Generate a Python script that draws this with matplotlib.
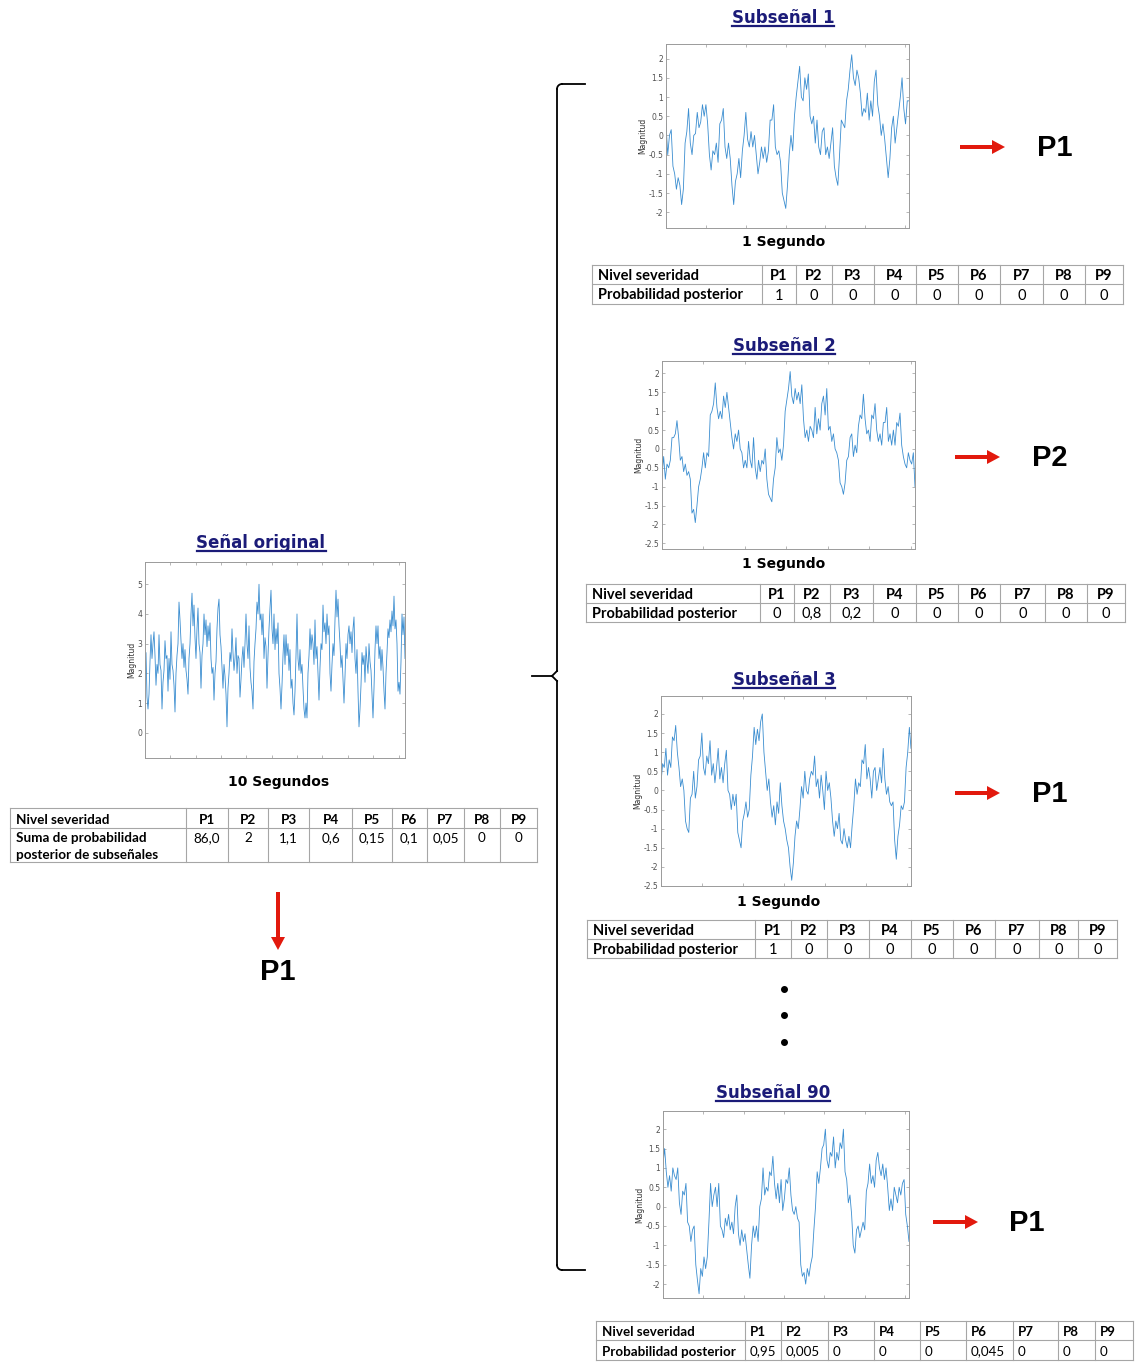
import numpy as np
import matplotlib.pyplot as plt
from matplotlib.ticker import FixedLocator, FuncFormatter, MultipleLocator

plt.rcParams['axes.unicode_minus'] = False

W, H = 1135, 1362

# ---- datos ----
niveles = ['P1', 'P2', 'P3', 'P4', 'P5', 'P6', 'P7', 'P8', 'P9']
suma_prob = ['86,0', '2', '1,1', '0,6', '0,15', '0,1', '0,05', '0', '0']
prob_sub1 = ['1', '0', '0', '0', '0', '0', '0', '0', '0']
prob_sub2 = ['0', '0,8', '0,2', '0', '0', '0', '0', '0', '0']
prob_sub3 = ['1', '0', '0', '0', '0', '0', '0', '0', '0']
prob_sub90 = ['0,95', '0,005', '0', '0', '0', '0,045', '0', '0', '0']
clase = {'Subseñal 1': 'P1', 'Subseñal 2': 'P2', 'Subseñal 3': 'P1', 'Subseñal 90': 'P1'}
clase_final = 'P1'

# señal original (10 s), leida a mano del grafico
senal_orig = [2.0, 2.7, 1.2, 0.8, 1.3, 2.4, 3.3, 2.5, 3.0, 3.4, 2.6, 1.6, 2.3, 2.0, 3.3, 2.3, 2.1, 0.8,
              1.7, 2.1, 3.1, 2.5, 2.6, 1.4, 2.5, 1.8, 3.4, 2.3, 2.1, 1.6, 0.7, 2.0, 2.6, 3.0, 4.4, 3.8,
              3.1, 2.5, 3.0, 2.2, 2.8, 2.1, 1.8, 1.3, 2.5, 3.0, 4.0, 4.7, 3.6, 4.3, 3.2, 2.5, 3.5, 4.2,
              3.0, 2.7, 1.5, 2.6, 3.0, 4.0, 3.3, 3.8, 2.9, 3.6, 3.1, 3.7, 2.5, 2.0, 2.2, 1.1, 2.0, 2.4,
              3.5, 4.2, 4.5, 3.3, 2.9, 2.2, 1.5, 2.3, 1.9, 1.3, 0.2, 1.5, 2.0, 2.7, 2.4, 3.5, 2.7, 2.1,
              2.5, 3.2, 2.0, 2.6, 2.5, 1.2, 1.8, 2.5, 2.9, 2.2, 3.0, 4.0, 3.0, 2.5, 3.6, 2.2, 1.7, 1.4,
              0.8, 2.4, 3.0, 3.5, 4.4, 4.0, 5.0, 3.8, 4.0, 3.3, 4.0, 2.5, 3.2, 2.9, 1.5, 2.6, 3.5, 4.2,
              4.8, 3.5, 3.0, 4.0, 2.8, 3.5, 3.0, 3.7, 2.0, 1.5, 0.8, 1.6, 2.6, 3.3, 2.3, 3.3, 2.6, 3.0,
              2.1, 2.8, 1.5, 1.8, 1.0, 0.6, 1.4, 2.6, 4.0, 2.5, 2.1, 2.8, 2.0, 2.3, 1.5, 0.8, 0.5, 1.0,
              0.5, 2.0, 2.6, 3.5, 2.8, 3.3, 3.0, 2.3, 3.8, 2.5, 2.9, 2.0, 1.1, 2.2, 3.0, 2.8, 4.3, 3.4,
              3.7, 3.0, 4.0, 3.3, 3.6, 2.0, 1.4, 2.3, 3.0, 2.6, 3.8, 4.8, 3.9, 4.5, 3.6, 3.0, 2.2, 2.6,
              1.8, 1.0, 1.9, 3.0, 2.5, 3.3, 3.6, 3.0, 3.4, 2.7, 3.5, 3.9, 2.5, 2.0, 2.8, 1.4, 0.2, 0.8,
              1.6, 2.7, 2.3, 2.6, 1.7, 2.9, 2.4, 2.0, 3.0, 2.4, 2.1, 1.3, 0.5, 1.5, 2.8, 3.6, 3.0, 3.6,
              2.5, 2.9, 2.1, 2.8, 2.2, 1.4, 0.8, 2.0, 2.7, 3.5, 3.2, 3.8, 3.4, 4.1, 3.6, 4.6, 3.5, 3.8,
              3.0, 1.4, 1.7, 1.3, 2.4, 4.0, 3.3, 3.9, 2.5]

sub1 = [0.3, -0.5, 0.0, 0.15, -0.8, -1.0, -1.4, -1.1, -1.3, -1.8, -1.4, -0.2, 0.1, 0.7, -0.2, -0.5, 0.0,
        0.05, 0.6, 0.2, 0.35, 0.8, 0.5, 0.8, 0.3, -0.5, -0.9, -0.4, -0.5, -0.2, -0.7, 0.3, 0.4, 0.7, -0.3,
        -0.6, -0.2, -0.6, -1.3, -1.8, -1.2, -1.0, -0.6, -1.1, -0.4, 0.0, 0.6, -0.1, -0.3, 0.1, -0.3, 0.0,
        -0.5, -1.0, -0.7, -0.3, -0.6, -0.3, -0.7, -0.4, 0.4, 0.4, 0.8, -0.3, -0.5, -0.4, -0.7, -1.5, -1.7,
        -1.9, -1.3, -0.5, 0.0, -0.4, 0.5, 1.0, 1.4, 1.8, 1.0, 0.9, 1.5, 1.2, 1.6, 0.5, 0.3, 0.5, -0.2, 0.4,
        -0.3, -0.5, 0.1, 0.2, -0.5, -0.3, -0.6, -0.2, 0.2, -0.8, -1.1, -1.3, -0.5, 0.4, 0.3, 0.2, 0.9, 1.2,
        1.7, 2.1, 1.5, 1.3, 1.7, 1.5, 1.1, 0.5, 0.7, 0.6, 1.1, 0.4, 0.9, 0.5, 1.4, 1.7, 0.8, 0.5, 0.0, 0.3,
        -0.1, -0.6, -1.1, -0.6, 0.2, 0.5, -0.2, 0.2, 0.6, 1.0, 1.5, 0.7, 0.3, 0.9, 0.9]

sub2 = [-0.7, -0.2, -0.8, -0.4, -0.5, -0.3, 0.3, 0.3, 0.4, 0.75, 0.3, -0.3, -0.2, -0.6, -0.4, -0.7, -0.6,
        -0.8, -1.7, -1.6, -1.95, -1.5, -1.0, -0.8, -0.5, -0.1, -0.5, -0.1, -0.2, 0.9, 1.0, 1.2, 1.75, 1.1,
        0.8, 1.0, 0.8, 1.4, 1.1, 1.5, 1.1, 0.7, 0.3, 0.0, 0.4, 0.2, 0.5, 0.0, -0.1, -0.5, -0.3, -0.5, 0.2,
        -0.3, -0.5, 0.3, -0.5, -0.8, -0.3, -0.6, -0.3, -0.4, 0.0, -0.8, -1.2, -1.3, -1.4, -0.8, -0.5, 0.3,
        -0.1, 0.0, -0.3, 0.1, 1.0, 1.3, 1.6, 2.05, 1.4, 1.2, 1.6, 1.3, 1.5, 1.2, 1.7, 0.8, 0.3, 0.5, 0.2,
        0.6, 0.5, 0.3, 1.1, 0.4, 0.8, 0.5, 1.2, 1.4, 0.9, 1.6, 0.5, 0.6, 0.2, 0.4, 0.0, -0.1, -0.3, -0.9,
        -1.0, -1.2, -0.9, -0.3, -0.2, 0.3, 0.4, -0.2, 0.1, -0.1, 0.6, 0.9, 0.8, 1.45, 0.8, 0.4, 0.5, 0.2,
        0.9, 0.8, 1.2, 0.5, 0.2, 0.4, 0.1, 0.7, 0.7, 1.1, 0.2, 0.4, 0.1, 0.5, 0.1, 0.7, 0.6, 0.95, 0.1,
        -0.2, -0.4, -0.5, -0.1, -0.3, -0.4, -0.1, -1.0]

sub3 = [0.2, 0.7, 0.6, 1.1, 0.4, 0.8, 0.6, 1.4, 1.3, 1.7, 1.0, 0.6, 0.1, 0.3, 0.0, -0.8, -1.0, -1.1, -0.2,
        -0.1, 0.5, -0.2, 0.1, 0.8, 0.9, 1.5, 0.6, 0.4, 0.9, 0.7, 1.3, 0.4, 0.7, 0.2, 0.6, 1.1, 0.3, 0.6,
        0.2, 0.7, 1.05, 0.0, -0.1, -0.5, -0.1, -0.4, -0.1, -1.1, -1.3, -1.5, -0.8, -0.6, -0.3, -0.7, -0.5,
        0.4, 0.9, 1.65, 1.2, 1.6, 1.3, 1.8, 2.0, 1.0, 0.5, 0.0, 0.3, -0.3, -0.7, -0.4, -0.9, -0.3, -0.6,
        0.2, -0.4, -0.8, -1.0, -1.3, -1.5, -2.0, -2.35, -1.9, -1.2, -0.8, -1.0, -0.5, 0.1, -0.2, 0.5, 0.0,
        -0.1, 0.3, 0.5, 0.4, 0.9, 0.1, 0.3, -0.2, 0.4, 0.0, -0.5, 0.5, 0.0, 0.2, -0.2, -0.8, -1.2, -0.8,
        -1.0, -0.6, -1.3, -1.4, -1.0, -1.3, -1.5, -1.2, -1.5, -0.9, -0.4, 0.3, -0.1, 0.2, 0.1, 0.8, 0.7,
        1.2, 0.3, 0.6, 0.3, -0.2, 0.5, 0.6, 0.0, 0.3, 0.6, 0.2, 1.1, 0.3, -0.1, 0.1, -0.3, -0.4, -0.3,
        -1.3, -1.8, -1.2, -0.9, -0.4, -0.5, -0.3, 0.6, 1.0, 1.65, 1.1]

sub90 = [1.1, 1.5, 0.9, 0.5, 0.8, 0.4, 1.0, 0.8, 0.7, 1.0, 0.1, -0.2, 0.4, 0.3, 0.6, -0.4, -0.5, -0.9,
         -0.6, -0.5, -1.5, -1.9, -2.25, -1.6, -1.8, -1.3, -1.6, -1.3, -0.4, 0.6, 0.0, 0.3, 0.5, 0.0, 0.6,
         -0.5, -0.6, -0.8, -0.3, -0.5, -0.2, -0.6, -0.4, -0.7, 0.0, 0.3, -0.7, -1.0, -0.6, -0.9, -0.7,
         -1.1, -1.5, -1.85, -1.0, -0.5, -0.8, -0.5, -0.9, 0.0, 0.2, 1.0, 0.3, 0.5, 0.4, 0.9, 0.8, 1.3,
         0.6, 0.2, 0.6, 0.1, 0.7, -0.1, 0.2, 0.7, 0.6, 1.0, 0.3, -0.1, -0.2, 0.0, -0.3, -0.4, -1.5, -1.8,
         -1.7, -2.0, -1.6, -1.8, -1.5, -1.3, -0.6, 0.0, 0.9, 0.6, 1.0, 1.5, 1.6, 2.0, 1.2, 1.0, 1.4, 1.3,
         1.8, 1.0, 1.4, 1.2, 1.65, 1.5, 2.0, 0.9, 0.7, 0.1, 0.3, -0.2, -1.0, -1.2, -0.6, -0.5, -0.8, -0.6,
         -0.4, -0.6, 0.4, 0.6, 1.1, 0.6, 0.8, 0.5, 1.2, 1.4, 1.0, 0.8, 1.1, 0.7, 1.0, 0.5, -0.1, 0.2,
         -0.1, 0.5, 0.3, 0.1, 0.5, 0.3, 0.6, 0.7, -0.2, -0.5, -0.9]

# ---- estilos ----
azul_titulo = '#1b1b78'
rojo = '#e2190d'
linea_matlab = '#3a8dd0'
borde = '#a6a6a6'
fuente_tabla = ['Lato', 'DejaVu Sans']

fig = plt.figure(figsize=(W / 100, H / 100), dpi=100)
ov = fig.add_axes([0, 0, 1, 1])
ov.set_xlim(0, W)
ov.set_ylim(H, 0)
ov.axis('off')


def px_axes(l, t, r, b):
    return fig.add_axes([l / W, 1 - b / H, (r - l) / W, (b - t) / H])


def grafico(box, y, tmax, xstep, ylim, ystep, lw):
    ax = px_axes(*box)
    t = np.linspace(0, tmax, len(y))
    ax.plot(t, y, color=linea_matlab, lw=lw)
    ax.set_xlim(0, tmax)
    ax.set_ylim(*ylim)
    ax.xaxis.set_major_locator(FixedLocator(np.arange(0, tmax, xstep)))
    ax.yaxis.set_major_locator(MultipleLocator(ystep))
    ax.yaxis.set_major_formatter(FuncFormatter(lambda v, p: '%g' % v))
    ax.set_xticklabels([])
    ax.tick_params(direction='in', length=2.5, width=0.5, labelsize=5.5, colors='#9a9a9a',
                   labelcolor='#505050', top=True, right=True, pad=2)
    for s in ax.spines.values():
        s.set_color('#9a9a9a')
        s.set_linewidth(0.7)
    ax.set_ylabel('Magnitud', fontsize=5.5, color='#303030', labelpad=1)
    return ax


titulos = []


def titulo(x, y, s):
    titulos.append(ov.text(x, y, s, ha='center', va='center', fontsize=12,
                           fontweight='bold', color=azul_titulo, family='DejaVu Sans'))


def flecha(x0, y0, x1, y1):
    ov.arrow(x0, y0, x1 - x0, y1 - y0, width=4, head_width=14, head_length=13,
             length_includes_head=True, color=rojo, lw=0)


def tabla(xe, ye, valores, etiqueta, align='center', fs=10.5, val_y=None):
    for x in xe:
        ov.plot([x, x], [ye[0], ye[-1]], color=borde, lw=0.8)
    for y in ye:
        ov.plot([xe[0], xe[-1]], [y, y], color=borde, lw=0.8)
    y1 = (ye[0] + ye[1]) / 2 + 1.5
    y2 = ((ye[1] + ye[2]) / 2 if val_y is None else val_y) + 1.5
    ov.text(xe[0] + 6, y1, 'Nivel severidad', fontsize=fs, fontweight='bold',
            va='center', family=fuente_tabla)
    ov.text(xe[0] + 6, (ye[1] + ye[2]) / 2 + 1.5, etiqueta, fontsize=fs, fontweight='bold',
            va='center', family=fuente_tabla, linespacing=1.45)
    for i in range(len(niveles)):
        if align == 'center':
            x, ha = (xe[i + 1] + xe[i + 2]) / 2, 'center'
        else:
            x, ha = xe[i + 1] + 5, 'left'
        ov.text(x, y1, niveles[i], fontsize=fs, fontweight='bold', ha=ha, va='center',
                family=fuente_tabla)
        ov.text(x, y2, valores[i], fontsize=fs, ha=ha, va='center', family=fuente_tabla)


# ---- señal original ----
titulo(261, 543, 'Señal original')
grafico((145, 562, 405, 758), senal_orig, 10, 0.975, (-0.85, 5.75), 1, 0.6)
ov.text(279, 782, '10 Segundos', ha='center', va='center', fontsize=10, fontweight='bold')
tabla([10, 186, 228, 268, 309, 352, 392, 427, 464, 500, 537], [808, 828, 862], suma_prob,
      'Suma de probabilidad\nposterior de subseñales', fs=9.7, val_y=837)
flecha(278, 892, 278, 950)
ov.text(278, 972, clase_final, ha='center', va='center', fontsize=21, fontweight='bold',
        family='Liberation Sans')

# ---- llave ----
r = 5
q = np.linspace(0, np.pi / 2, 10)
kw = dict(color='black', lw=1.3)
ov.plot([585, 557 + r], [84, 84], **kw)
ov.plot(557 + r - r * np.sin(q), 84 + r - r * np.cos(q), **kw)
ov.plot([557, 557], [84 + r, 676 - r], **kw)
ov.plot(557 - r * np.sin(q), 676 - r + r * np.sin(q), **kw)
ov.plot([557 - r, 532], [676, 676], **kw)
ov.plot(557 - r * np.sin(q), 676 + r - r * np.sin(q), **kw)
ov.plot([557, 557], [676 + r, 1270 - r], **kw)
ov.plot(557 + r - r * np.cos(q), 1270 - r + r * np.sin(q), **kw)
ov.plot([557 + r, 585], [1270, 1270], **kw)

# ---- subseñales ----
subs = [
    ('Subseñal 1', (783, 18), (666, 44, 909, 228), sub1, (-2.41, 2.38), (784, 242),
     [592, 762, 796, 832, 874, 916, 958, 1000, 1043, 1085, 1123], [265, 284, 304], prob_sub1,
     (960, 1005, 147), (1055, 148)),
    ('Subseñal 2', (784, 346), (662, 361, 915, 549), sub2, (-2.65, 2.33), (784, 564),
     [586, 760, 794, 830, 873, 916, 958, 1000, 1045, 1087, 1125], [584, 603, 622], prob_sub2,
     (955, 1000, 457), (1050, 458)),
    ('Subseñal 3', (784, 680), (661, 696, 911, 886), sub3, (-2.5, 2.47), (779, 902),
     [587, 755, 791, 827, 869, 911, 953, 995, 1039, 1078, 1117], [920, 939, 958], prob_sub3,
     (955, 1000, 793), (1050, 794)),
    ('Subseñal 90', (773, 1093), (663, 1111, 909, 1298), sub90, (-2.36, 2.47), None,
     [596, 745, 781, 828, 874, 920, 966, 1013, 1058, 1095, 1133], [1321, 1340, 1360], prob_sub90,
     (933, 978, 1222), (1027, 1223)),
]

for nombre, tpos, box, y, ylim, lab, xe, ye, vals, arr, ppos in subs:
    titulo(tpos[0], tpos[1], nombre)
    grafico(box, y, 1.0, 0.164, ylim, 0.5, 0.6)
    if lab is not None:
        ov.text(lab[0], lab[1], '1 Segundo', ha='center', va='center', fontsize=10,
                fontweight='bold')
    if nombre == 'Subseñal 90':
        tabla(xe, ye, vals, 'Probabilidad posterior', align='left', fs=9.6)
    else:
        tabla(xe, ye, vals, 'Probabilidad posterior')
    flecha(arr[0], arr[2], arr[1], arr[2])
    ov.text(ppos[0], ppos[1], clase[nombre], ha='center', va='center', fontsize=21,
            fontweight='bold', family='Liberation Sans')

# puntos suspensivos
ov.plot([784, 784, 784], [989, 1015, 1042], 'o', color='black', ms=4)

# subrayado de los titulos
fig.canvas.draw()
inv = ov.transData.inverted()
for t in titulos:
    bb = t.get_window_extent()
    (x0, y0), (x1, _) = inv.transform([(bb.x0, bb.y0), (bb.x1, bb.y1)])
    ov.plot([x0, x1], [y0 - 1, y0 - 1], color=azul_titulo, lw=1.6)

fig.savefig('out.png', dpi=100)
